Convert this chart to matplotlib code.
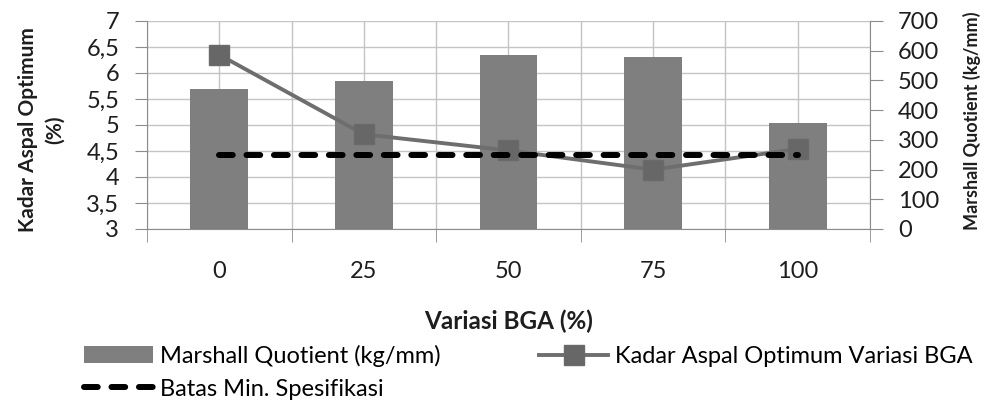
import matplotlib
matplotlib.use("Agg")
import matplotlib.pyplot as plt
from matplotlib.ticker import MultipleLocator

variasi = ["0", "25", "50", "75", "100"]
marshall_q = [471, 498, 586, 578, 358]          # kg/mm
kadar_aspal = [6.35, 4.82, 4.51, 4.14, 4.54]     # %
batas_min = [250, 250, 250, 250, 250]            # kg/mm

bar_col = "#7f7f7f"
line_col = "#6e6e6e"
grid_col = "#c4c4c4"
spine_col = "#8c8c8c"
txt_col = "#1e1e1e"
fam = ["Lato", "DejaVu Sans"]

fig = plt.figure(figsize=(9.89, 4.01), dpi=100)
ax = fig.add_axes([0.1486, 0.429, 0.7311, 0.5187])
x = list(range(len(variasi)))

# base axes: grid and left scale
ax.set_xlim(-0.5, 4.5)
ax.set_ylim(3, 7)
ax.yaxis.set_major_locator(MultipleLocator(0.5))
ax.set_yticklabels([f"{v:g}".replace(".", ",") for v in ax.get_yticks()],
                   family=fam, fontsize=17, color=txt_col)
ax.set_xticks(x)
ax.set_xticklabels(variasi, family=fam, fontsize=17, color=txt_col)
ax.set_xticks([i - 0.5 for i in range(len(variasi) + 1)], minor=True)
ax.tick_params(axis="x", which="major", length=0, pad=23)
ax.tick_params(axis="x", which="minor", length=9, color=spine_col)
ax.tick_params(axis="y", length=9, color=spine_col, pad=11)
ax.grid(True, which="both", axis="x", color=grid_col, lw=1)
ax.grid(True, which="major", axis="y", color=grid_col, lw=1)
ax.set_axisbelow(True)
for s in ["top", "right"]:
    ax.spines[s].set_visible(False)
for s in ["left", "bottom"]:
    ax.spines[s].set_color(spine_col)
ax.set_xlabel("Variasi BGA (%)", family=fam, fontsize=17.5, fontweight="bold",
              color=txt_col, labelpad=20)
ax.set_ylabel("Kadar Aspal Optimum\n(%)", family=fam, fontsize=15,
              fontweight="bold", color=txt_col, linespacing=1.4)
ax.yaxis.set_label_coords(-0.114, 0.476)

# right scale with the bars
axr = ax.twinx()
bars = axr.bar(x, marshall_q, width=0.4, color=bar_col)
axr.set_ylim(0, 700)
axr.yaxis.set_major_locator(MultipleLocator(100))
axr.tick_params(axis="y", length=9, color=spine_col, pad=11, labelsize=17,
                labelcolor=txt_col)
for lab in axr.get_yticklabels():
    lab.set_family(fam)
for s in ["top", "left", "bottom"]:
    axr.spines[s].set_visible(False)
axr.spines["right"].set_color(spine_col)
axr.set_ylabel("Marshall Quotient (kg/mm)", family=fam, fontsize=13,
               fontweight="bold", color=txt_col)
axr.yaxis.set_label_coords(1.128, 0.52)

# kadar aspal line over the bars
axl = ax.twinx()
axl.set_ylim(3, 7)
line, = axl.plot(x, kadar_aspal, color=line_col, lw=2.8, marker="s", markersize=14,
                 markerfacecolor="#676767", markeredgecolor="#6a6a6a")
axl.axis("off")

# spec minimum on top
axd = ax.twinx()
axd.set_ylim(0, 700)
dash, = axd.plot(x, batas_min, color="black", lw=4.3, ls=(0, (2.3, 2.3)),
                 dash_capstyle="round")
axd.axis("off")

fig.legend([bars, dash, line],
           ["Marshall Quotient (kg/mm)", "Batas Min. Spesifikasi",
            "Kadar Aspal Optimum Variasi BGA"],
           ncol=2, loc="upper left", bbox_to_anchor=(0.085, 0.140),
           frameon=False, prop={"family": fam, "size": 17},
           handlelength=2.9, handletextpad=0.3, columnspacing=4.2,
           labelspacing=0.5, borderaxespad=0, borderpad=0)

fig.savefig("out.png", dpi=100)
